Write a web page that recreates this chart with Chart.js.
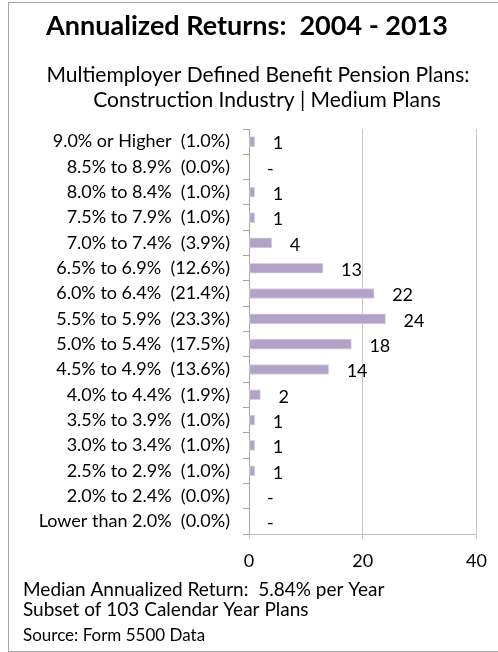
<!DOCTYPE html>
<html>
<head>
<meta charset="utf-8">
<script src="https://cdn.jsdelivr.net/npm/chart.js@4.4.0/dist/chart.umd.min.js"></script>
<style>
  html, body { margin: 0; padding: 0; background: #fff; }
  #wrap { position: relative; width: 498px; height: 652px; overflow: hidden; }
  #frame { position: absolute; left: 8px; top: 2px; width: 500px; height: 648px; border: 1px solid #a6a6a6; pointer-events: none; }
  canvas { position: absolute; left: 0; top: 0; }
</style>
</head>
<body>
<div id="wrap">
  <canvas id="returnsChart" width="498" height="652"></canvas>
  <div id="frame"></div>
</div>
<script>
const categories = [
  "9.0% or Higher  (1.0%)",
  "8.5% to 8.9%  (0.0%)",
  "8.0% to 8.4%  (1.0%)",
  "7.5% to 7.9%  (1.0%)",
  "7.0% to 7.4%  (3.9%)",
  "6.5% to 6.9%  (12.6%)",
  "6.0% to 6.4%  (21.4%)",
  "5.5% to 5.9%  (23.3%)",
  "5.0% to 5.4%  (17.5%)",
  "4.5% to 4.9%  (13.6%)",
  "4.0% to 4.4%  (1.9%)",
  "3.5% to 3.9%  (1.0%)",
  "3.0% to 3.4%  (1.0%)",
  "2.5% to 2.9%  (1.0%)",
  "2.0% to 2.4%  (0.0%)",
  "Lower than 2.0%  (0.0%)"
];
const planCounts = [1, 0, 1, 1, 4, 13, 22, 24, 18, 14, 2, 1, 1, 1, 0, 0];
const xTicks = [0, 20, 40];

const titleText = "Annualized Returns:  2004 - 2013";
const subtitleLines = [
  "Multiemployer Defined Benefit Pension Plans:",
  "Construction Industry | Medium Plans"
];
const footerLines = [
  "Median Annualized Return:  5.84% per Year",
  "Subset of 103 Calendar Year Plans"
];
const sourceText = "Source: Form 5500 Data";

const FONT = "Lato, 'Open Sans', sans-serif";

// titles, footer and the value labels next to each bar
const textPlugin = {
  id: "texts",
  afterDatasetsDraw(chart) {
    const ctx = chart.ctx;
    ctx.save();
    ctx.fillStyle = "#000";
    ctx.textBaseline = "middle";

    ctx.textAlign = "center";
    ctx.font = "bold 27px " + FONT;
    ctx.fillText(titleText, 247, 26);
    ctx.font = "21px " + FONT;
    ctx.fillText(subtitleLines[0], 258, 75);
    ctx.fillText(subtitleLines[1], 267, 100);

    ctx.textAlign = "left";
    ctx.font = "18px " + FONT;
    const meta = chart.getDatasetMeta(0);
    meta.data.forEach((bar, i) => {
      const v = planCounts[i];
      ctx.fillText(v === 0 ? "-" : String(v), bar.x + 18, bar.y + 2);
    });

    ctx.font = "19px " + FONT;
    ctx.fillText(footerLines[0], 23, 590);
    ctx.fillText(footerLines[1], 23, 610);
    ctx.font = "17px " + FONT;
    ctx.fillText(sourceText, 23, 636);
    ctx.restore();
  }
};

new Chart(document.getElementById("returnsChart"), {
  type: "bar",
  data: {
    labels: categories,
    datasets: [{
      data: planCounts,
      backgroundColor: "#b3a2c7",
      borderColor: "#d4cfdc",
      borderWidth: 1,
      borderSkipped: false,
      barThickness: 10
    }]
  },
  options: {
    indexAxis: "y",
    responsive: false,
    animation: false,
    layout: { padding: { left: 0, right: 21, top: 129, bottom: 78 } },
    plugins: {
      legend: { display: false },
      tooltip: { enabled: false },
      title: { display: false }
    },
    scales: {
      x: {
        min: 0,
        max: 40,
        afterBuildTicks: (scale) => { scale.ticks = xTicks.map((v) => ({ value: v })); },
        afterFit: (scale) => { scale.height = 40; },
        ticks: { color: "#000", font: { family: FONT, size: 18 }, padding: 11 },
        grid: { color: "#c8c8c8", tickLength: 5, drawTicks: true },
        border: { color: "#bfbfbf" }
      },
      y: {
        afterFit: (scale) => { scale.width = 249; },
        ticks: { color: "#000", font: { family: FONT, size: 18 }, padding: 13 },
        grid: { drawOnChartArea: false, drawTicks: true, tickLength: 6, color: "#a6a6a6", offset: true },
        border: { color: "#a6a6a6" }
      }
    }
  },
  plugins: [textPlugin]
});
</script>
</body>
</html>
